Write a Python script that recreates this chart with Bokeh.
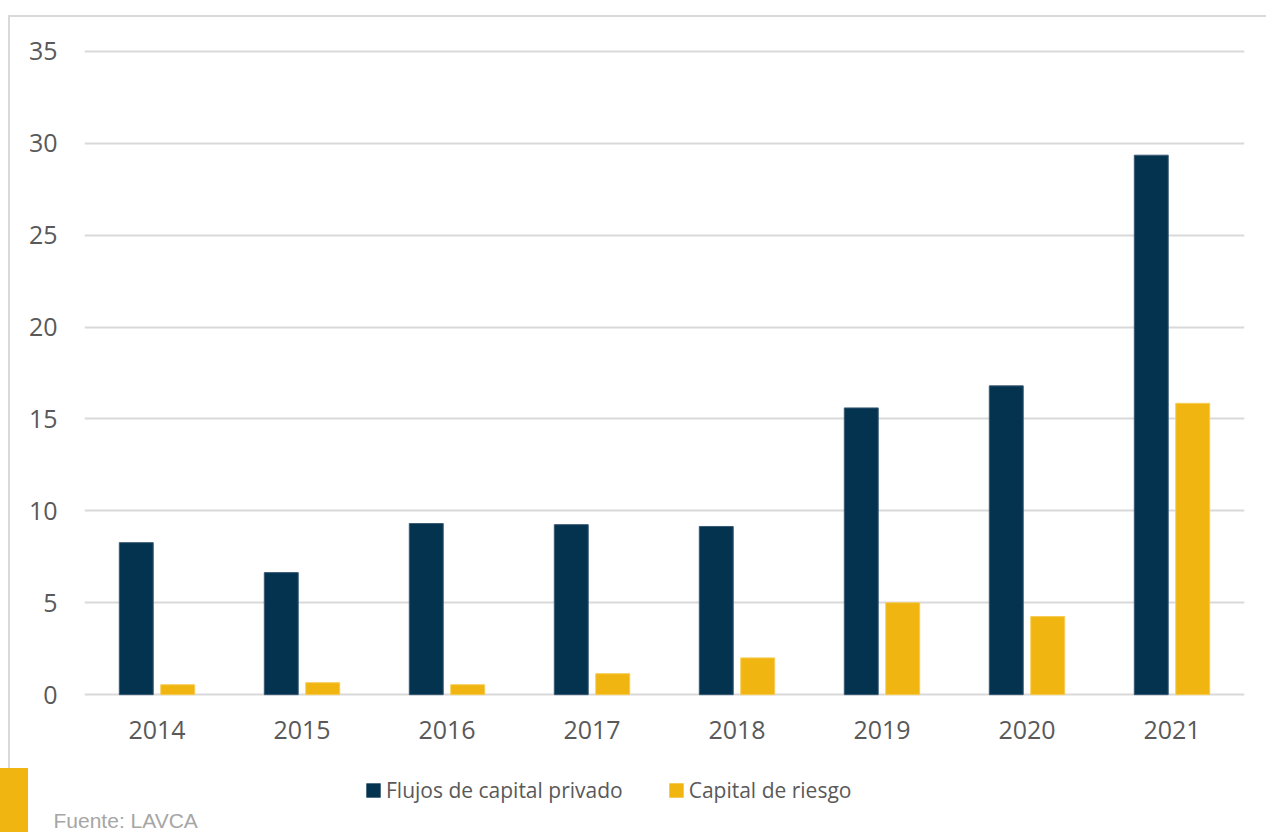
from bokeh.plotting import figure
from bokeh.models import FactorRange, Range1d, Legend, LegendItem, Label, ColumnDataSource
from bokeh.transform import dodge
from bokeh.embed import file_html
from bokeh.resources import INLINE

years = ["2014", "2015", "2016", "2017", "2018", "2019", "2020", "2021"]
flujos_privado = [8.27, 6.64, 9.31, 9.25, 9.15, 15.6, 16.8, 29.35]
capital_riesgo = [0.54, 0.65, 0.54, 1.14, 2.0, 5.0, 4.25, 15.85]
y_ticks = [0, 5, 10, 15, 20, 25, 30, 35]
series_names = ["Flujos de capital privado", "Capital de riesgo"]
source_note = "Fuente: LAVCA"

NAVY = "#03334F"
YELLOW = "#F0B510"
GRID = "#d9d9d9"
TXT = "#595959"

src = ColumnDataSource(dict(years=years, a=flujos_privado, b=capital_riesgo))

# ---------------- main chart (top 768 px) ----------------
p = figure(width=1266, height=768, x_range=FactorRange(*years), y_range=Range1d(-0.1, 35.1),
           output_backend="svg", toolbar_location=None,
           min_border_left=84, min_border_right=22, min_border_top=49, min_border_bottom=72)
p.outline_line_color = None
p.background_fill_color = "white"
p.border_fill_color = None
# thin page frame lines painted behind the transparent canvas border
p.styles = {
    "background-color": "white",
    "background-image": "linear-gradient(#d9d9d9,#d9d9d9), linear-gradient(#d9d9d9,#d9d9d9)",
    "background-size": "2px 753px, 1258px 2px",
    "background-position": "8px 15px, 8px 15px",
    "background-repeat": "no-repeat",
}

p.vbar(x=dodge("years", -0.143, range=p.x_range), top="a", width=0.234, source=src,
       fill_color=NAVY, line_color="#3a5a74", line_width=1)
p.vbar(x=dodge("years", 0.143, range=p.x_range), top="b", width=0.234, source=src,
       fill_color=YELLOW, line_color="#f6cc55", line_width=1)

p.xgrid.grid_line_color = None
p.ygrid.grid_line_color = GRID
p.ygrid.grid_line_width = 2
p.yaxis.ticker = y_ticks
for ax in (p.xaxis, p.yaxis):
    ax.axis_line_color = None
    ax.major_tick_line_color = None
    ax.minor_tick_line_color = None
    ax.major_label_text_font = "Open Sans"
    ax.major_label_text_font_size = "25px"
    ax.major_label_text_color = TXT
p.yaxis.major_label_standoff = 21
p.xaxis.major_label_standoff = 18

# ---------------- footer strip (bottom 64 px): legend + source ----------------
f = figure(width=1266, height=64, x_range=Range1d(0, 1), y_range=Range1d(0, 1),
           output_backend="svg", toolbar_location=None,
           min_border_left=0, min_border_right=0, min_border_top=0, min_border_bottom=0,
           x_axis_location=None, y_axis_location=None)
f.outline_line_color = None
f.grid.visible = False
f.border_fill_color = None
f.background_fill_color = None
f.styles = {
    "background-color": "white",
    "background-image": "linear-gradient(#F0B510,#F0B510)",
    "background-size": "28px 64px",
    "background-position": "0px 0px",
    "background-repeat": "no-repeat",
}

fsrc = ColumnDataSource(dict(a=flujos_privado, b=capital_riesgo))
k1 = f.vbar(x="a", top="a", width=0.1, source=fsrc, fill_color=NAVY, line_color=None, visible=False)
k2 = f.vbar(x="b", top="b", width=0.1, source=fsrc, fill_color=YELLOW, line_color=None, visible=False)

legend = Legend(items=[LegendItem(label=series_names[0], renderers=[k1]),
                       LegendItem(label=series_names[1], renderers=[k2])],
                orientation="horizontal", location=(364, 27),
                glyph_width=18, glyph_height=18, label_standoff=4, spacing=44,
                label_height=30, padding=0, margin=0, border_line_color=None,
                background_fill_alpha=0, inactive_fill_alpha=0,
                label_text_font="Open Sans", label_text_font_size="21px", label_text_color=TXT)
f.add_layout(legend, "center")
f.add_layout(Label(x=53, y=12, x_units="screen", y_units="screen", text=source_note,
                   text_font="Liberation Sans", text_font_size="21px", text_color="#a6a6a6",
                   text_baseline="alphabetic"))

open("out.html", "w").write(file_html([p, f], INLINE))
